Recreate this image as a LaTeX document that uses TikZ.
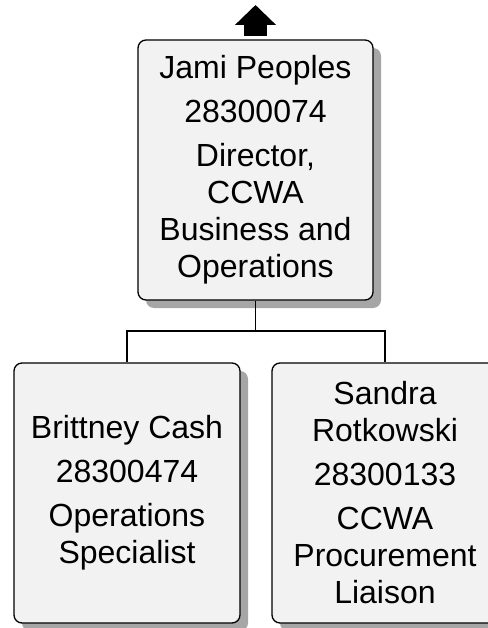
\documentclass[tikz,border=0pt]{standalone}
\usepackage{fontspec}
\setmainfont{Liberation Sans}
\usetikzlibrary{shadows,arrows.meta}
\definecolor{boxfill}{HTML}{F2F2F2}
\definecolor{boxshadow}{HTML}{A6A6A6}
\tikzset{
	person/.style={draw, line width=1.3pt, rounded corners=8pt, fill=boxfill,
		minimum height=260pt, align=center, inner sep=0pt,
		drop shadow={shadow xshift=8pt, shadow yshift=-8pt, fill=boxshadow, opacity=1}},
	link/.style={line width=1.3pt}
}
\begin{document}
\begin{tikzpicture}[x=1pt, y=-1pt, font=\fontsize{32}{37}\selectfont]
		\useasboundingbox (0,0) rectangle (487,628);
		\node[person, minimum width=235pt] (JP) at (255.5, 170) {Jami Peoples\\[7pt]28300074\\[7pt]Director,\\CCWA\\Business and\\Operations};
		\node[person, minimum width=226pt] (BC) at (127, 493) {Brittney Cash\\[7pt]28300474\\[7pt]Operations\\Specialist};
		\node[person, minimum width=226pt] (SR) at (385, 493) {Sandra\\Rotkowski\\[7pt]28300133\\[7pt]CCWA\\Procurement\\Liaison};
		\coordinate (up) at (255.5, 5);
		\coordinate (bus) at (255.5, 331);

		\draw[line width=23pt, shorten <=3pt, -{Triangle[width=40pt, length=20pt]}] (JP.north) -- (up);
		\draw[link] (JP.south) -- (bus) -| (BC.north);
		\draw[link] (bus) -| (SR.north);

	\end{tikzpicture}
\end{document}
